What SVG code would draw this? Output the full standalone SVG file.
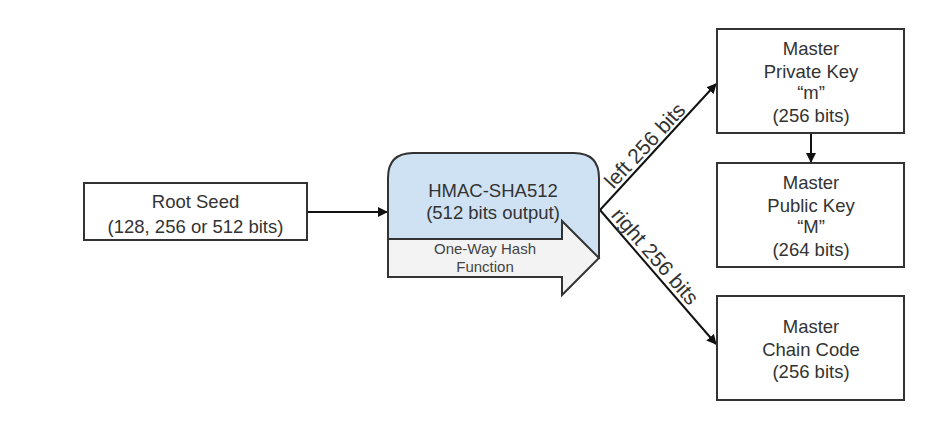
<svg xmlns="http://www.w3.org/2000/svg" width="935" height="432" viewBox="0 0 935 432">
<style>
.box{fill:#fff;stroke:#333;stroke-width:2}
.t{font-family:"Liberation Sans",Arial,sans-serif;font-size:18.5px;fill:#333;text-anchor:middle}
.l{font-family:"Liberation Sans",Arial,sans-serif;font-size:21px;fill:#333}
.s{font-family:"Liberation Sans",Arial,sans-serif;font-size:15px;fill:#444;text-anchor:middle}
.c{stroke:#111;stroke-width:2;fill:none}
</style>
<defs>
<marker id="ah" markerWidth="10" markerHeight="10" refX="9" refY="5" orient="auto" markerUnits="userSpaceOnUse">
<path d="M0,0 L10,5 L0,10 Z" fill="#111"/>
</marker>
</defs>
<rect width="935" height="432" fill="#fff"/>
<g id="connectors">
<line class="c" x1="307" y1="212" x2="387" y2="212" marker-end="url(#ah)"/>
<line class="c" x1="600" y1="210" x2="716" y2="84" marker-end="url(#ah)"/>
<line class="c" x1="600" y1="210" x2="716" y2="344" marker-end="url(#ah)"/>
<line class="c" x1="811" y1="133" x2="811" y2="162" marker-end="url(#ah)"/>
<text class="l" transform="translate(600,210) rotate(-47)" x="24" y="-4">left 256 bits</text>
<text class="l" transform="translate(600,210) rotate(49)" x="11" y="-4">right 256 bits</text>
</g>
<g id="root-seed">
<rect class="box" x="84" y="183" width="223" height="57"/>
<text class="t" x="195.5" y="208">Root Seed</text>
<text class="t" x="195.5" y="233">(128, 256 or 512 bits)</text>
</g>
<g id="hmac">
<path d="M388,258 V178 Q388,153 413,153 H574 Q599,153 599,178 V258 Z" fill="#cfe2f3" stroke="#333" stroke-width="2"/>
<text class="t" x="493" y="197">HMAC-SHA512</text>
<text class="t" x="493" y="219">(512 bits output)</text>
<path d="M388,239 H562 V221 L599,258 L562,295 V277 H388 Z" fill="#f3f3f3" stroke="#333" stroke-width="2"/>
<text class="s" x="485" y="254">One-Way Hash</text>
<text class="s" x="485" y="272">Function</text>
</g>
<g id="private-key">
<rect class="box" x="717" y="29" width="187" height="104"/>
<text class="t" x="811" y="55">Master</text>
<text class="t" x="811" y="78">Private Key</text>
<text class="t" x="811" y="99">“m”</text>
<text class="t" x="811" y="122">(256 bits)</text>
</g>
<g id="public-key">
<rect class="box" x="717" y="163" width="187" height="104"/>
<text class="t" x="811" y="189">Master</text>
<text class="t" x="811" y="212">Public Key</text>
<text class="t" x="811" y="233">“M”</text>
<text class="t" x="811" y="256">(264 bits)</text>
</g>
<g id="chain-code">
<rect class="box" x="717" y="296" width="187" height="104"/>
<text class="t" x="811" y="333">Master</text>
<text class="t" x="811" y="356">Chain Code</text>
<text class="t" x="811" y="378">(256 bits)</text>
</g>
</svg>
